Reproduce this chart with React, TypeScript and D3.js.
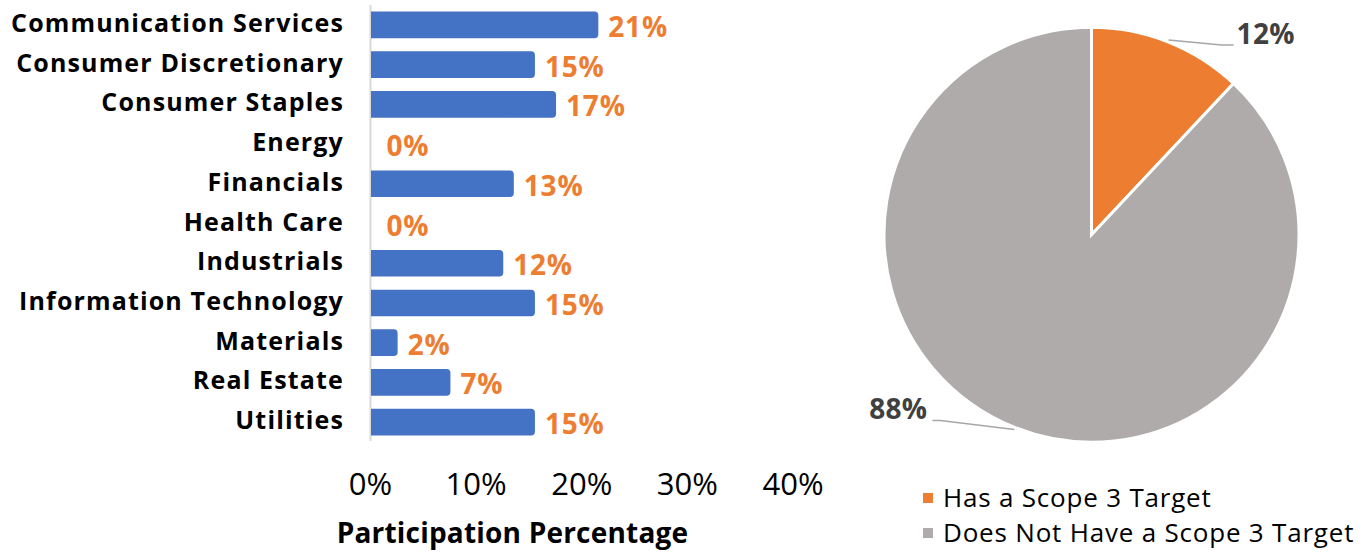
import * as d3 from "d3";

const sectors = [
  "Communication Services",
  "Consumer Discretionary",
  "Consumer Staples",
  "Energy",
  "Financials",
  "Health Care",
  "Industrials",
  "Information Technology",
  "Materials",
  "Real Estate",
  "Utilities",
];
const participation = [0.21, 0.15, 0.17, 0, 0.13, 0, 0.12, 0.15, 0.02, 0.07, 0.15];
const xTicks = [0, 0.1, 0.2, 0.3, 0.4];

const pieLabels = ["Has a Scope 3 Target", "Does Not Have a Scope 3 Target"];
const pieValues = [12, 88];
const pieColors = ["#ED7D31", "#AFABAB"];

const W = 1370;
const H = 552;
const FONT = "'Open Sans', sans-serif";
const BAR = "#4472C4";
const ORANGE = "#ED7D31";
const CAP = 6; // rounded end of each bar

const pct = d3.format(".0%");

export default function App() {
  const x = d3.scaleLinear().domain([0, 0.4]).range([370.5, 793]);
  const y = d3.scaleBand<string>().domain(sectors).range([5, 442]).paddingInner(0.33).paddingOuter(0.165);

  const cx = 1091.5;
  const cy = 234.7;
  const r = 207.5;
  const pie = d3.pie<number>().sort(null).value((d) => d);
  const arcs = pie(pieValues);
  const arc = d3.arc<d3.PieArcDatum<number>>().innerRadius(0).outerRadius(r);
  const leaderOffsets: [number, number][] = [
    [53, 5],
    [-74, -9],
  ];

  const barPath = (v: number, top: number, h: number) => {
    const x0 = x(0) + 0.5;
    const x1 = x(v) + CAP;
    const rr = 4;
    const p = d3.path();
    p.moveTo(x0, top);
    p.lineTo(x1 - rr, top);
    p.quadraticCurveTo(x1, top, x1, top + rr);
    p.lineTo(x1, top + h - rr);
    p.quadraticCurveTo(x1, top + h, x1 - rr, top + h);
    p.lineTo(x0, top + h);
    p.closePath();
    return p.toString();
  };

  return (
    <svg width={W} height={H} style={{ position: "absolute", left: 0, top: 0, background: "#fff" }}>
      {/* bar chart */}
      <line x1={x(0)} x2={x(0)} y1={5} y2={441} stroke="#D9D9D9" strokeWidth={2} />
      {sectors.map((s, i) => {
        const top = y(s)!;
        const h = y.bandwidth();
        const mid = top + h / 2;
        const v = participation[i];
        return (
          <g key={s}>
            <text x={344} y={mid + 7} textAnchor="end" fontFamily={FONT} fontWeight={700} fontSize={25} letterSpacing={1.15} fill="#000">
              {s}
            </text>
            {v > 0 && <path d={barPath(v, top, h)} fill={BAR} />}
            <text x={x(v) + CAP + 10} y={mid + 12} fontFamily={FONT} fontWeight={700} fontSize={28} letterSpacing={0.8} fill={ORANGE}>
              {pct(v)}
            </text>
          </g>
        );
      })}
      {xTicks.map((t) => (
        <text key={t} x={x(t)} y={495} textAnchor="middle" fontFamily={FONT} fontSize={31} fill="#000">
          {pct(t)}
        </text>
      ))}
      <text x={512.5} y={543} textAnchor="middle" fontFamily={FONT} fontWeight={700} fontSize={28} letterSpacing={0.2} fill="#000">
        Participation Percentage
      </text>

      {/* pie chart */}
      <g transform={`translate(${cx},${cy})`}>
        {arcs.map((a, i) => (
          <path key={i} d={arc(a)!} fill={pieColors[i]} stroke="#fff" strokeWidth={3} />
        ))}
        {arcs.map((a, i) => {
          const m = (a.startAngle + a.endAngle) / 2;
          const sx = Math.sin(m) * (r + 2);
          const sy = -Math.cos(m) * (r + 2);
          const [ox, oy] = leaderOffsets[i];
          const ex = sx + ox;
          const ey = sy + oy;
          const right = ox > 0;
          const hx = ex + (right ? 12 : -8);
          return (
            <g key={`l${i}`}>
              <polyline points={`${sx},${sy} ${ex},${ey} ${hx},${ey}`} fill="none" stroke="#A6A6A6" strokeWidth={1.5} />
              <text
                x={hx + (right ? 3 : -5)}
                y={ey - 1}
                textAnchor={right ? "start" : "end"}
                fontFamily={FONT}
                fontWeight={700}
                fontSize={28}
                letterSpacing={0.3}
                fill="#404040"
              >
                {a.data}%
              </text>
            </g>
          );
        })}
      </g>

      {/* legend */}
      {pieLabels.map((l, i) => (
        <g key={l} transform={`translate(923,${493 + i * 35})`}>
          <rect width={10} height={10} fill={pieColors[i]} />
          <text x={20} y={13.5} fontFamily={FONT} fontSize={26} letterSpacing={0.8} fill="#000">
            {l}
          </text>
        </g>
      ))}
    </svg>
  );
}
